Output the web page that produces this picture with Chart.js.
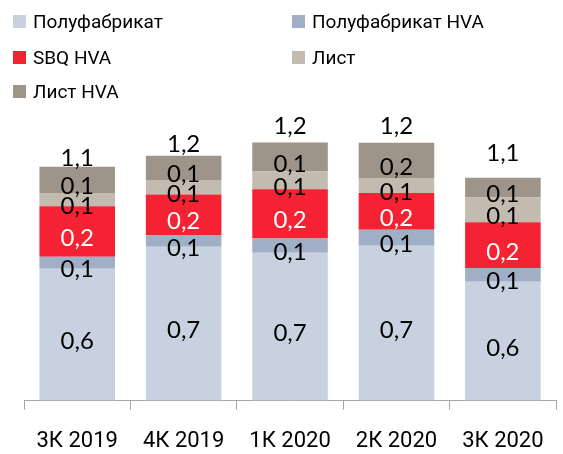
<!DOCTYPE html>
<html>
<head>
<meta charset="utf-8">
<script src="https://cdn.jsdelivr.net/npm/chart.js@4/dist/chart.umd.min.js"></script>
<style>
  body { margin: 0; background: #fff; }
  #wrap { position: relative; width: 563px; height: 454px; }
  #legend { position: absolute; left: 0; top: 0; width: 563px; font-family: Roboto, sans-serif; font-size: 19px; color: #000; }
  .item { position: absolute; display: flex; align-items: center; white-space: nowrap; }
  .box { width: 13px; height: 13px; margin-right: 7px; }
</style>
</head>
<body>
<div id="wrap">
  <canvas id="barChart" width="563" height="454"></canvas>
  <div id="legend"></div>
</div>
<script>
var categories = ["3К 2019", "4К 2019", "1К 2020", "2К 2020", "3К 2020"];
var seriesNames = ["Полуфабрикат", "Полуфабрикат HVA", "SBQ HVA", "Лист", "Лист HVA"];
var semi = [0.633, 0.739, 0.71, 0.744, 0.571];
var semiHVA = [0.058, 0.054, 0.068, 0.076, 0.066];
var sbqHVA = [0.242, 0.197, 0.237, 0.177, 0.219];
var sheet = [0.064, 0.069, 0.085, 0.072, 0.119];
var sheetHVA = [0.126, 0.117, 0.139, 0.169, 0.095];

var colors = ["#c7d1e0", "#a0afc6", "#f52233", "#c3bab0", "#9e9489"];
var labelColors = ["#000", "#000", "#fff", "#000", "#000"];

function fmt(v) {
  return v.toFixed(1).replace(".", ",");
}

// segment labels + totals above each bar
var barLabels = {
  id: "barLabels",
  afterDatasetsDraw: function (chart, args, opts) {
    var ctx = chart.ctx;
    ctx.save();
    ctx.font = "24px Lato";
    ctx.textAlign = "center";
    ctx.textBaseline = "alphabetic";
    chart.data.datasets.forEach(function (ds, di) {
      var meta = chart.getDatasetMeta(di);
      meta.data.forEach(function (bar, i) {
        var mid = (bar.y + bar.base) / 2;
        ctx.fillStyle = labelColors[di];
        ctx.fillText(fmt(ds.data[i]), bar.x, mid + 14.5);
      });
    });
    var last = chart.getDatasetMeta(chart.data.datasets.length - 1);
    last.data.forEach(function (bar, i) {
      var total = 0;
      chart.data.datasets.forEach(function (ds) { total += ds.data[i]; });
      ctx.fillStyle = "#000";
      ctx.fillText(fmt(total), bar.x, bar.y - opts.offsets[i] + 8.5);
    });
    ctx.restore();
  },
};

var bar = document.getElementById("barChart").getContext("2d");

var barChart = new Chart(bar, {
  type: "bar",
  data: {
    labels: categories,
    datasets: [semi, semiHVA, sbqHVA, sheet, sheetHVA].map(function (d, i) {
      return {
        label: seriesNames[i],
        data: d,
        backgroundColor: colors[i],
        borderWidth: 0,
        categoryPercentage: 1,
        barPercentage: 0.71,
      };
    }),
  },
  plugins: [barLabels],
  options: {
    responsive: false,
    animation: false,
    layout: {
      padding: { top: 109, left: 24, right: 4, bottom: -20 },
    },
    plugins: {
      legend: { display: false },
      tooltip: { enabled: false },
      barLabels: { offsets: [9, 12, 17, 17, 25] },
    },
    scales: {
      x: {
        stacked: true,
        border: { display: true, color: "#a6a6a6", width: 1 },
        grid: {
          display: true,
          offset: true,
          drawOnChartArea: false,
          drawTicks: true,
          tickLength: 9,
          color: "#a6a6a6",
        },
        ticks: {
          color: "#000",
          padding: 19,
          font: { family: "Roboto", size: 22 },
          maxRotation: 0,
        },
      },
      y: {
        stacked: true,
        display: false,
        min: 0,
        max: 1.4,
      },
    },
  },
});

// two-column legend like the original
var legendPos = [
  [13, 12], [292, 12],
  [13, 48], [292, 48],
  [13, 82],
];
var legend = document.getElementById("legend");
barChart.data.datasets.forEach(function (ds, i) {
  var item = document.createElement("div");
  item.className = "item";
  item.style.left = legendPos[i][0] + "px";
  item.style.top = legendPos[i][1] - 2 + "px";
  item.innerHTML = '<span class="box" style="background:' + ds.backgroundColor + '"></span>' + ds.label;
  legend.appendChild(item);
});
</script>
</body>
</html>
